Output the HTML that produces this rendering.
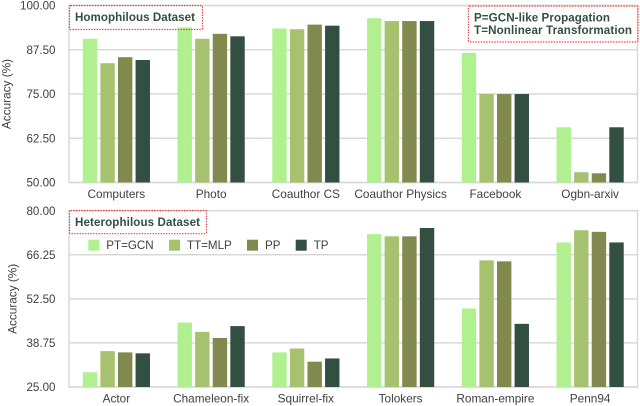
<!DOCTYPE html>
<html lang="en">
<head>
<meta charset="utf-8">
<title>Accuracy by dataset</title>
<style>
html,body{margin:0;padding:0;background:#fff;width:640px;height:406px;overflow:hidden}
svg{display:block;font-family:"Liberation Sans",sans-serif}
</style>
</head>
<body>
<svg id="chart" xmlns="http://www.w3.org/2000/svg" width="640" height="406" viewBox="0 0 640 406"></svg>
<script>
const seriesNames = ["PT=GCN", "TT=MLP", "PP", "TP"];
const seriesColors = ["#b0f090", "#a6c26e", "#82894f", "#324f41"];

const homoCategories = ["Computers", "Photo", "Coauthor CS", "Coauthor Physics", "Facebook", "Ogbn-arxiv"];
const homoTicks = ["50.00", "62.50", "75.00", "87.50", "100.00"];
const homoPT = [90.6, 93.8, 93.5, 96.4, 86.6, 65.6];
const homoTT = [83.7, 90.6, 93.3, 95.6, 75.0, 52.9];
const homoPP = [85.4, 92.0, 94.6, 95.6, 75.0, 52.6];
const homoTP = [84.6, 91.3, 94.3, 95.6, 75.0, 65.6];

const heteroCategories = ["Actor", "Chameleon-fix", "Squirrel-fix", "Tolokers", "Roman-empire", "Penn94"];
const heteroTicks = ["25.00", "38.75", "52.50", "66.25", "80.00"];
const heteroPT = [29.6, 45.1, 35.8, 72.7, 49.5, 70.1];
const heteroTT = [36.2, 42.2, 37.0, 72.0, 64.5, 73.9];
const heteroPP = [35.8, 40.3, 32.9, 72.0, 64.2, 73.4];
const heteroTP = [35.5, 44.0, 33.9, 74.6, 44.7, 70.1];

const NS = "http://www.w3.org/2000/svg";
const svg = document.getElementById("chart");

function make(tag, attrs, text, parent) {
  const el = document.createElementNS(NS, tag);
  for (const k in attrs) el.setAttribute(k, attrs[k]);
  if (text !== undefined && text !== null) el.textContent = text;
  (parent || svg).appendChild(el);
  return el;
}

function drawPanel(prefix, frame, categories, ticks, series) {
  const tickValues = ticks.map(Number);
  const yMin = tickValues[0];
  const yMax = tickValues[tickValues.length - 1];
  const yScale = v => frame.bottom - (v - yMin) / (yMax - yMin) * (frame.bottom - frame.top);
  const groupWidth = (frame.right - frame.left) / categories.length;
  const barStep = 17.6;
  const barWidth = 14.4;
  const xScale = (g, s) => frame.left + groupWidth * (g + 0.5) + (s - (series.length - 1) / 2) * barStep - barWidth / 2;

  const panel = make("g", {});
  
  

  ticks.forEach((t, i) => {
    const y = yScale(tickValues[i]);
    const grid = make("line", {x1: frame.left, x2: frame.right, y1: y, y2: y, stroke: "#d9d9d9", "stroke-width": 1.5}, null, panel);
    
    
    const label = make("text", {x: 55.5, y: y + 4.2, "text-anchor": "end", "font-size": 11.6, fill: "#404040"}, t, panel);
    
    
  });

  const border = make("rect", {x: frame.left, y: frame.top, width: frame.right - frame.left, height: frame.bottom - frame.top, fill: "none", stroke: "#d9d9d9", "stroke-width": 1.5}, null, panel);
  
  

  series.forEach((values, s) => {
    values.forEach((v, g) => {
      const y = yScale(v);
      const bar = make("rect", {x: xScale(g, s), y: y, width: barWidth, height: frame.bottom - y, fill: seriesColors[s]}, null, panel);
      
      
    });
  });

  categories.forEach((c, g) => {
    const label = make("text", {x: frame.left + groupWidth * (g + 0.5), y: frame.bottom + 15.6, "text-anchor": "middle", "font-size": 11.8, fill: "#404040"}, c, panel);
    
    
  });

  const cy = (frame.top + frame.bottom) / 2;
  const title = make("text", {x: frame.titleX, y: cy, transform: "rotate(-90 " + frame.titleX + " " + cy + ")", "text-anchor": "middle", "font-size": 11.8, fill: "#404040"}, "Accuracy (%)", panel);
  
  
}

drawPanel("homophilous", {left: 69, right: 637.5, top: 5.5, bottom: 182.5, titleX: 10.5}, homoCategories, homoTicks, [homoPT, homoTT, homoPP, homoTP]);
drawPanel("heterophilous", {left: 69, right: 637.5, top: 210.7, bottom: 387, titleX: 16.5}, heteroCategories, heteroTicks, [heteroPT, heteroTT, heteroPP, heteroTP]);

function callout(name, x, y, w, h, lines) {
  const g = make("g", {});
  
  
  make("rect", {x: x, y: y, width: w, height: h, rx: 1, fill: "none", stroke: "#ee4444", "stroke-width": 1.2, "stroke-dasharray": "1.5 1.2"}, null, g);
  lines.forEach(l => {
    make("text", {x: l.x, y: l.y, "font-size": 11.6, "font-weight": "bold", fill: "#324f41", textLength: l.w, lengthAdjust: "spacing"}, l.t, g);
  });
}
callout("homophilous-dataset-callout", 69.5, 5.5, 133, 24, [{x: 75, y: 20.8, w: 120, t: "Homophilous Dataset"}]);
callout("heterophilous-dataset-callout", 69.5, 210.5, 137, 23.2, [{x: 75, y: 225.8, w: 125, t: "Heterophilous Dataset"}]);
callout("abbreviation-note-callout", 468.5, 6, 169.5, 36, [
  {x: 474, y: 21.7, w: 136, t: "P=GCN-like Propagation"},
  {x: 474, y: 34.2, w: 158, t: "T=Nonlinear Transformation"}
]);

const legend = make("g", {});


const legendSwatchX = [88.3, 169, 247, 295.7];
seriesNames.forEach((n, i) => {
  const entry = make("g", {}, null, legend);
  
  
  make("rect", {x: legendSwatchX[i], y: 239.7, width: 11, height: 11, fill: seriesColors[i]}, null, entry);
  make("text", {x: legendSwatchX[i] + 18, y: 249, "font-size": 11.6, fill: "#404040"}, n, entry);
});
</script>
</body>
</html>
